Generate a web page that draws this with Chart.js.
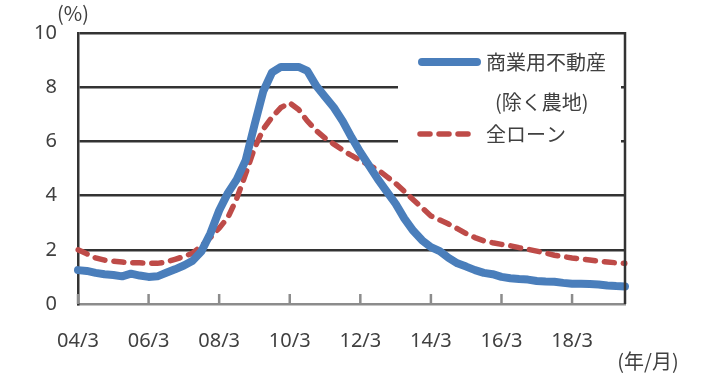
<!DOCTYPE html>
<html>
<head>
<meta charset="utf-8">
<script src="https://cdn.jsdelivr.net/npm/chart.js@4"></script>
<style>
  body { margin: 0; background: #fff; }
  #wrap { width: 720px; height: 374px; }
</style>
</head>
<body>
<div id="wrap"><canvas id="chart" width="720" height="374"></canvas></div>
<script>
// 四半期 (04/3 ～ 19/9)
const quarters = [
    '04/3','04/6','04/9','04/12','05/3','05/6','05/9','05/12',
    '06/3','06/6','06/9','06/12','07/3','07/6','07/9','07/12',
    '08/3','08/6','08/9','08/12','09/3','09/6','09/9','09/12',
    '10/3','10/6','10/9','10/12','11/3','11/6','11/9','11/12',
    '12/3','12/6','12/9','12/12','13/3','13/6','13/9','13/12',
    '14/3','14/6','14/9','14/12','15/3','15/6','15/9','15/12',
    '16/3','16/6','16/9','16/12','17/3','17/6','17/9','17/12',
    '18/3','18/6','18/9','18/12','19/3','19/6','19/9'
];
const tickLabels = ['04/3','06/3','08/3','10/3','12/3','14/3','16/3','18/3'];
const yTicks = [0, 2, 4, 6, 8, 10];

const nameCRE = ['商業用不動産', '(除く農地)'];
const nameAll = ['全ローン'];

// 商業用不動産（除く農地）延滞率 %
const creValues = [
    1.25, 1.22, 1.15, 1.10, 1.07, 1.02, 1.12, 1.05,
    1.00, 1.02, 1.15, 1.28, 1.42, 1.60, 1.95, 2.60,
    3.45, 4.10, 4.60, 5.30, 6.60, 7.85, 8.55, 8.75,
    8.75, 8.75, 8.60, 8.05, 7.65, 7.25, 6.75, 6.15,
    5.60, 5.10, 4.60, 4.15, 3.70, 3.15, 2.70, 2.35,
    2.10, 1.95, 1.70, 1.50, 1.38, 1.25, 1.15, 1.10,
    1.00, 0.95, 0.92, 0.90, 0.85, 0.83, 0.82, 0.78,
    0.75, 0.75, 0.74, 0.72, 0.68, 0.66, 0.65
];
// 全ローン 延滞率 %
const allValues = [
    2.00, 1.85, 1.70, 1.62, 1.58, 1.55, 1.52, 1.52,
    1.50, 1.50, 1.55, 1.65, 1.75, 1.88, 2.15, 2.45,
    2.80, 3.20, 3.90, 4.80, 5.75, 6.45, 6.90, 7.25,
    7.42, 7.18, 6.75, 6.40, 6.12, 5.90, 5.68, 5.48,
    5.30, 5.12, 4.95, 4.70, 4.45, 4.15, 3.85, 3.55,
    3.25, 3.10, 2.95, 2.78, 2.60, 2.45, 2.33, 2.26,
    2.20, 2.15, 2.08, 2.02, 1.95, 1.88, 1.80, 1.75,
    1.70, 1.66, 1.62, 1.58, 1.55, 1.52, 1.50
];

const FONT = "'Noto Sans', 'Noto Sans CJK JP', sans-serif";
const JFONT = "'Noto Sans CJK JP', sans-serif";
const TEXT = '#404040';
const BLUE = '#4a7ebb';
const RED = '#be4b48';

const decor = {
    id: 'decor',
    afterDatasetsDraw(chart) {
        const c = chart.ctx;
        const a = chart.chartArea;
        // 凡例
        c.save();
        c.fillStyle = '#fff';
        c.fillRect(398, 44, a.right - 4 - 398, 116);
        chart.data.datasets.forEach((ds, k) => {
            const y = k === 0 ? 62 : 134;
            c.beginPath();
            c.lineWidth = k === 0 ? 8 : 5.5;
            c.lineCap = 'round';
            c.strokeStyle = ds.borderColor;
            c.setLineDash(ds.borderDash || []);
            c.moveTo(k === 0 ? 422 : 420, y);
            c.lineTo(k === 0 ? 477 : 474, y);
            c.stroke();
            c.setLineDash([]);
            c.fillStyle = TEXT;
            c.font = '20px ' + JFONT;
            c.textBaseline = 'middle';
            c.textAlign = 'left';
            ds.nameLines.forEach((t, j) => {
                c.fillText(t, j === 0 ? 486 : 495, y + j * 40);
            });
        });
        c.restore();
    },
    afterDraw(chart) {
        const c = chart.ctx;
        const a = chart.chartArea;
        const xs = chart.scales.x;
        c.save();
        // 右枠
        c.strokeStyle = '#333';
        c.lineWidth = 2.5;
        c.beginPath();
        c.moveTo(a.right, a.top - 1);
        c.lineTo(a.right, a.bottom);
        c.stroke();
        // 目盛り（内向き）
        c.strokeStyle = '#8c8c8c';
        c.lineWidth = 2.5;
        quarters.forEach((q, i) => {
            if (!tickLabels.includes(q)) return;
            const x = xs.getPixelForValue(i);
            c.beginPath();
            c.moveTo(x, a.bottom - 10);
            c.lineTo(x, a.bottom);
            c.stroke();
        });
        c.fillStyle = TEXT;
        c.font = '20px ' + JFONT;
        c.textBaseline = 'middle';
        c.textAlign = 'center';
        c.fillText('(%)', 73, 13);
        c.fillText('(年/月)', 648, 361);
        c.restore();
    }
};

new Chart(document.getElementById('chart'), {
    type: 'line',
    data: {
        labels: quarters,
        datasets: [{
            label: nameCRE.join(''),
            nameLines: nameCRE,
            data: creValues,
            borderColor: BLUE,
            borderWidth: 8,
            pointRadius: 0,
            tension: 0,
            borderJoinStyle: 'round',
            borderCapStyle: 'round'
        }, {
            label: nameAll.join(''),
            nameLines: nameAll,
            data: allValues,
            borderColor: RED,
            borderWidth: 5.5,
            borderDash: [10, 9],
            borderCapStyle: 'round',
            pointRadius: 0,
            tension: 0
        }]
    },
    options: {
        responsive: false,
        animation: false,
        layout: { padding: { top: 33, right: 95, bottom: 0, left: 0 } },
        plugins: {
            legend: { display: false },
            tooltip: { enabled: false }
        },
        scales: {
            x: {
                type: 'category',
                offset: false,
                afterFit: s => { s.height = 70; },
                grid: { drawOnChartArea: false, drawTicks: false },
                border: { color: '#8c8c8c', width: 2.5 },
                ticks: {
                    autoSkip: false,
                    maxRotation: 0,
                    padding: 25,
                    color: TEXT,
                    font: { family: FONT, size: 20 },
                    callback: function(v, i) {
                        const q = quarters[i];
                        return tickLabels.includes(q) ? q : '';
                    }
                }
            },
            y: {
                min: 0,
                max: 10,
                afterFit: s => { s.width = 78; },
                afterBuildTicks: s => { s.ticks = yTicks.map(v => ({ value: v })); },
                grid: {
                    drawTicks: false,
                    lineWidth: 2.5,
                    color: ctx => ctx.tick && ctx.tick.value === 0 ? 'rgba(0,0,0,0)' : '#333'
                },
                border: { color: '#333', width: 2.5 },
                ticks: {
                    padding: 21,
                    color: TEXT,
                    font: { family: FONT, size: 20 }
                }
            }
        }
    },
    plugins: [decor]
});
</script>
</body>
</html>
